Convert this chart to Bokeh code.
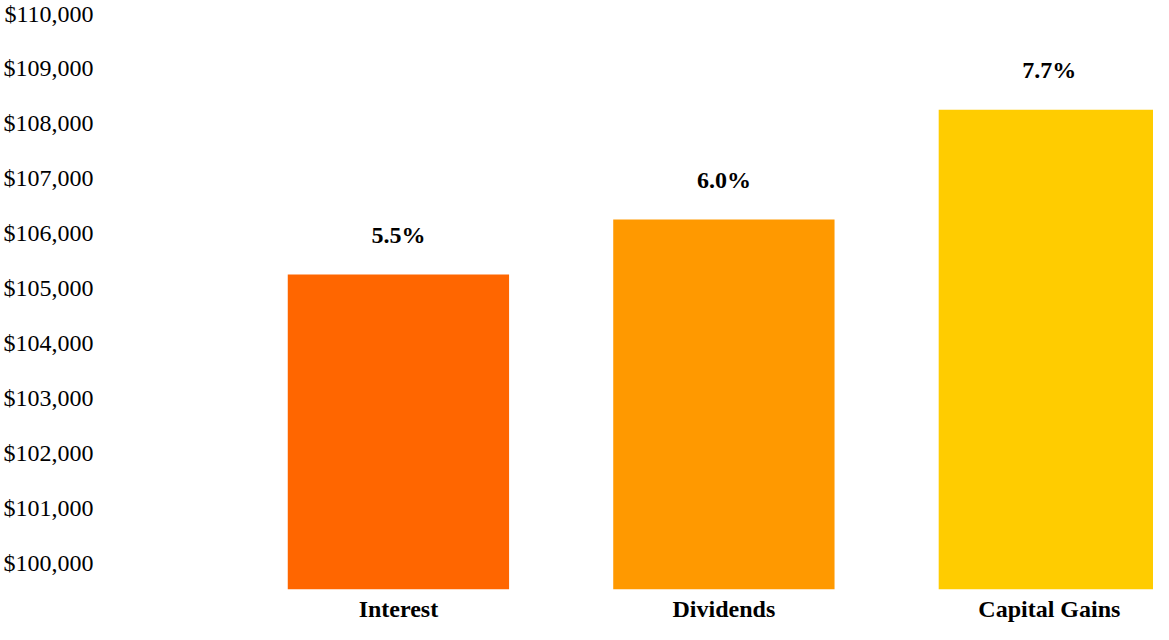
from bokeh.plotting import figure
from bokeh.models import ColumnDataSource, Range1d, FixedTicker, NumeralTickFormatter
from bokeh.core.properties import value
from bokeh.embed import file_html
from bokeh.resources import INLINE

categories = ["Interest", "Dividends", "Capital Gains"]
values = [105250, 106250, 108250]
rates = ["5.5%", "6.0%", "7.7%"]
colors = ["#FF6600", "#FF9900", "#FFCC00"]
y_ticks = [100000, 101000, 102000, 103000, 104000, 105000, 106000, 107000, 108000, 109000, 110000]

base = 99520
idx = list(range(len(categories)))
src = ColumnDataSource(dict(x=idx, top=values, label=rates, color=colors, cat=categories))

FONT = "Liberation Serif"

p = figure(width=1153, height=624, output_backend="svg", toolbar_location=None,
           x_range=Range1d(-0.90, 2.32), y_range=Range1d(base, 110236),
           min_border=0, min_border_left=0, min_border_right=0, min_border_top=0)
p.outline_line_color = None
p.background_fill_color = "white"
p.border_fill_color = "white"
p.grid.visible = False

p.vbar(x="x", top="top", bottom=base, width=0.68, fill_color="color", line_color=None, source=src)
p.text(x="x", y="top", text="label", source=src, text_align="center", text_baseline="middle",
       y_offset=-40, text_font=value(FONT), text_font_size="24px", text_font_style="bold",
       text_color="black")

p.yaxis.ticker = FixedTicker(ticks=y_ticks)
p.yaxis.formatter = NumeralTickFormatter(format="$0,0")
p.yaxis.axis_line_color = None
p.yaxis.major_tick_line_color = None
p.yaxis.minor_tick_line_color = None
p.yaxis.major_label_text_font = FONT
p.yaxis.major_label_text_font_size = "24px"
p.yaxis.major_label_text_color = "black"
p.yaxis.major_label_standoff = 6

p.xaxis.ticker = FixedTicker(ticks=idx)
p.xaxis.major_label_overrides = {i: c for i, c in zip(idx, categories)}
p.xaxis.axis_line_color = None
p.xaxis.major_tick_line_color = None
p.xaxis.minor_tick_line_color = None
p.xaxis.major_label_text_font = FONT
p.xaxis.major_label_text_font_size = "24px"
p.xaxis.major_label_text_font_style = "bold"
p.xaxis.major_label_text_color = "black"
p.xaxis.major_label_standoff = 0

open("out.html", "w").write(file_html(p, INLINE))
